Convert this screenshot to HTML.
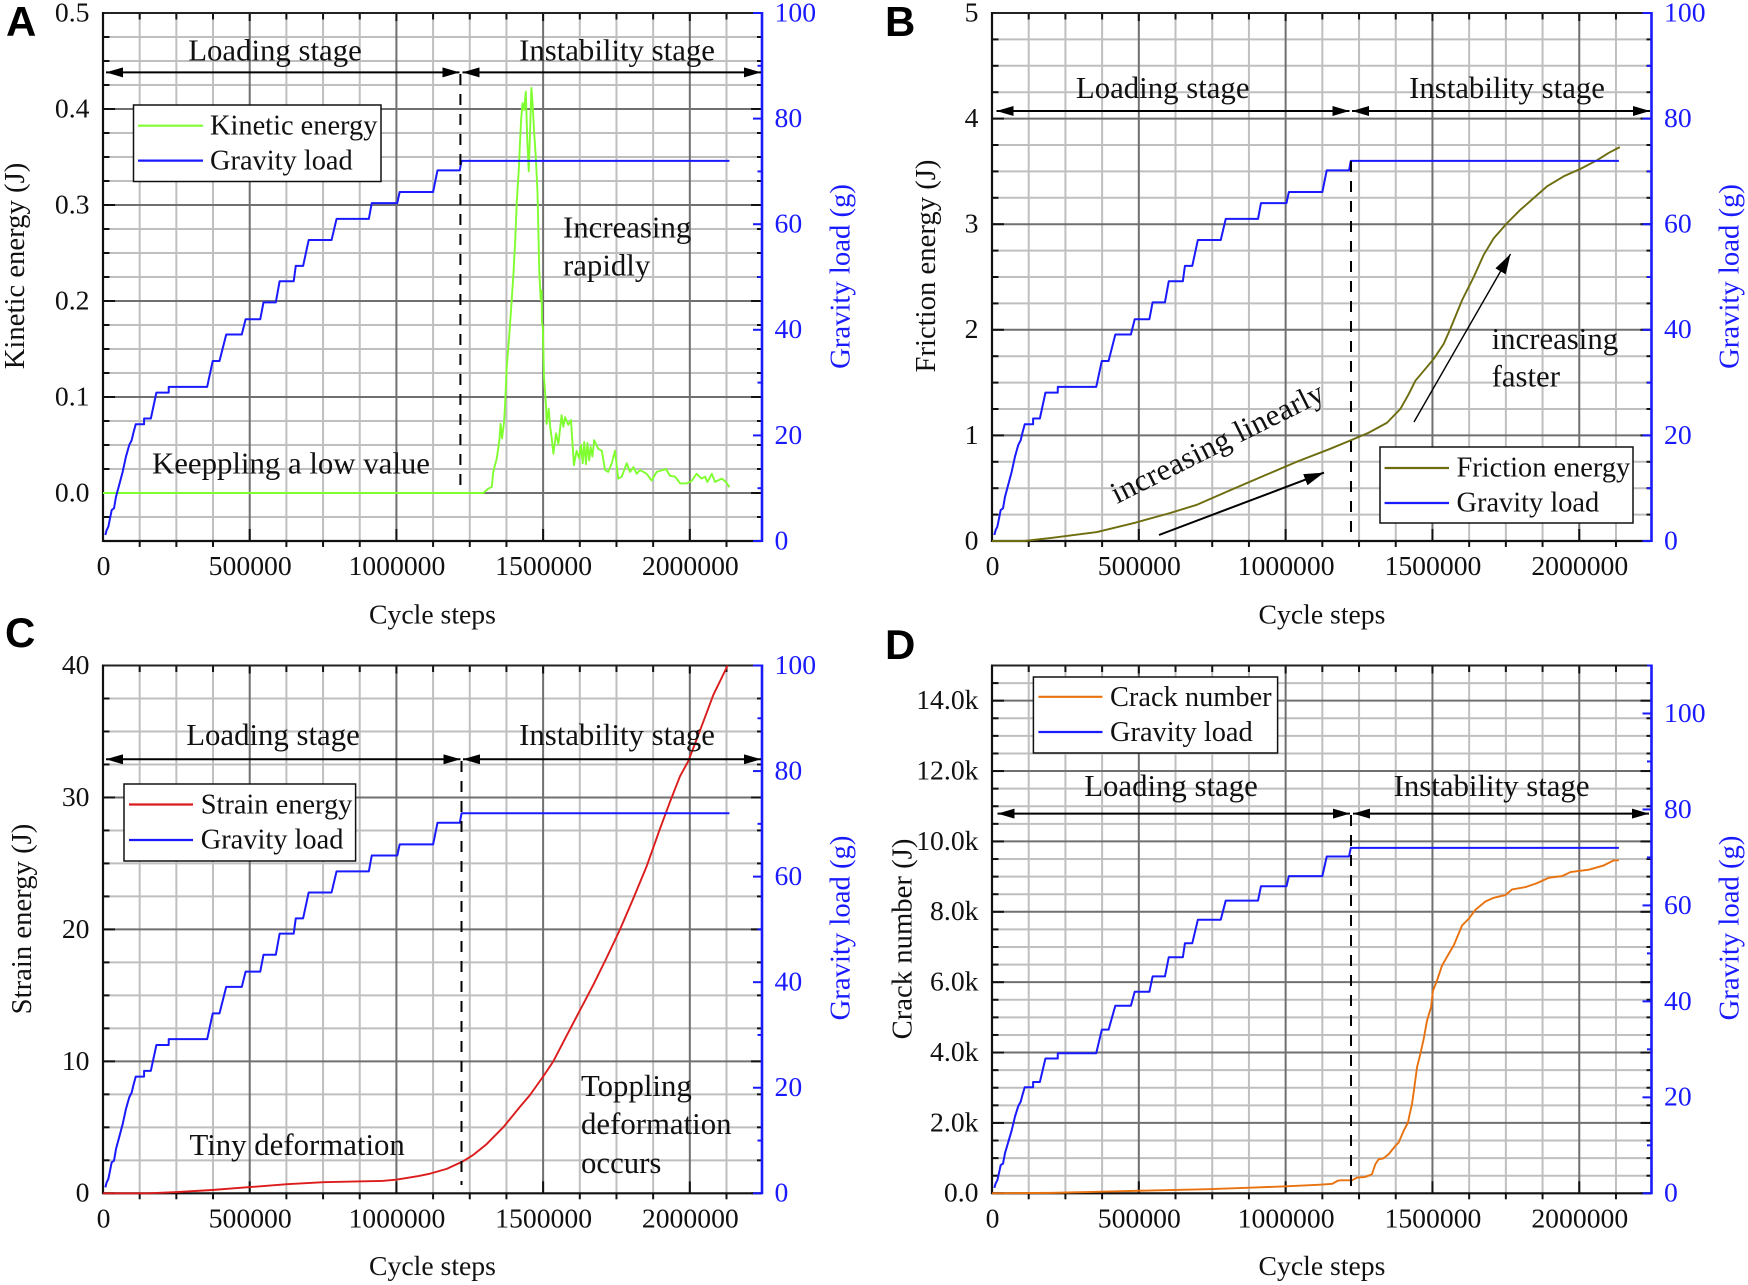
<!DOCTYPE html>
<html lang="en">
<head>
<meta charset="utf-8">
<title>Energy and crack evolution under gravity loading</title>
<style>
html,body{margin:0;padding:0;background:#fff;}
svg{display:block;}
text{font-family:"Liberation Serif",serif;fill:#111;}
.tick{font-size:27.7px;}
.title{font-size:27.7px;}
.rtitle{font-size:28.7px;}
.note{font-size:30.8px;}
.leg{font-size:28.4px;}
.blue{fill:#1a1aff;}
.letter{font-family:"Liberation Sans",sans-serif;font-weight:bold;font-size:42px;fill:#000;}
.stage{stroke:#000;stroke-width:2;fill:none;marker-start:url(#head);marker-end:url(#head);}
.dash{stroke:#000;stroke-width:2;stroke-dasharray:11 9;fill:none;}
.box{fill:#fff;stroke:#111;stroke-width:1.5;}
</style>
</head>
<body>
<svg xmlns="http://www.w3.org/2000/svg" width="1748" height="1285" viewBox="0 0 1748 1285">
<defs>
<marker id="head" viewBox="0 0 17 10" refX="17" refY="5" markerWidth="17" markerHeight="10" markerUnits="userSpaceOnUse" orient="auto-start-reverse"><path d="M0,0L17,5L0,10Z" fill="#000"/></marker>
<marker id="thin" viewBox="0 0 20 12" refX="20" refY="6" markerWidth="20" markerHeight="12" markerUnits="userSpaceOnUse" orient="auto"><path d="M0,0L20,6L0,12Z" fill="#000"/></marker>
</defs>
<rect width="1748" height="1285" fill="#fff"/>

<!-- Panel A -->
<g id="panel-a"></g>
<g>
<text class="letter" x="6" y="36">A</text>
<text class="rtitle" transform="translate(24,266) rotate(-90)" text-anchor="middle">Kinetic energy (J)</text>
<text class="rtitle blue" transform="translate(849.5,276.5) rotate(-90)" text-anchor="middle">Gravity load (g)</text>
<text class="title" x="432.5" y="623.5" text-anchor="middle">Cycle steps</text>
<line class="stage" x1="106" y1="72.4" x2="459.5" y2="72.4"/>
<line class="stage" x1="462.5" y1="72.4" x2="761" y2="72.4"/>
<line class="dash" x1="460.4" y1="74" x2="460.4" y2="492"/>
<text class="note" x="275" y="60.5" text-anchor="middle">Loading stage</text>
<text class="note" x="617" y="60.5" text-anchor="middle">Instability stage</text>
<text class="note" x="152" y="473.5">Keeppling a low value</text>
<text class="note" x="563" y="237.5">Increasing</text>
<text class="note" x="563" y="275.5">rapidly</text>
<g>
<rect class="box" x="133.5" y="105" width="247.5" height="76.5"/>
<line x1="138" y1="125.7" x2="203" y2="125.7" stroke="#80ff30" stroke-width="2.2"/>
<line x1="138" y1="160.6" x2="203" y2="160.6" stroke="#1a1aff" stroke-width="2.2"/>
<text class="leg" x="210" y="134.7">Kinetic energy</text>
<text class="leg" x="210" y="169.4">Gravity load</text>
</g>
</g>

<!-- Panel B -->
<g id="panel-b"></g>
<g>
<text class="letter" x="885" y="36">B</text>
<text class="rtitle" transform="translate(935,266) rotate(-90)" text-anchor="middle">Friction energy (J)</text>
<text class="rtitle blue" transform="translate(1738.5,276.5) rotate(-90)" text-anchor="middle">Gravity load (g)</text>
<text class="title" x="1322" y="623.5" text-anchor="middle">Cycle steps</text>
<line class="stage" x1="996.5" y1="111" x2="1349.5" y2="111"/>
<line class="stage" x1="1352" y1="111" x2="1650" y2="111"/>
<line class="dash" x1="1351" y1="161" x2="1351" y2="541"/>
<text class="note" x="1162.7" y="98" text-anchor="middle">Loading stage</text>
<text class="note" x="1507" y="98" text-anchor="middle">Instability stage</text>
<text class="note" transform="translate(1117,504) rotate(-26.5)" textLength="234">increasing linearly</text>
<text class="note" x="1491.6" y="349">increasing</text>
<text class="note" x="1491.6" y="386.5">faster</text>
<line x1="1159" y1="535" x2="1324" y2="472.6" stroke="#000" stroke-width="2" marker-end="url(#thin)"/>
<line x1="1414" y1="422" x2="1510.5" y2="254" stroke="#000" stroke-width="1.4" marker-end="url(#thin)"/>
<g>
<rect class="box" x="1380" y="447" width="253" height="76"/>
<line x1="1384.6" y1="468" x2="1449" y2="468" stroke="#6d6d10" stroke-width="2.2"/>
<line x1="1384.6" y1="503" x2="1449" y2="503" stroke="#1a1aff" stroke-width="2.2"/>
<text class="leg" x="1456.5" y="476.7">Friction energy</text>
<text class="leg" x="1456.5" y="511.4">Gravity load</text>
</g>
</g>

<!-- Panel C -->
<g id="panel-c"></g>
<g>
<text class="letter" x="5" y="647">C</text>
<text class="rtitle" transform="translate(31,919) rotate(-90)" text-anchor="middle">Strain energy (J)</text>
<text class="rtitle blue" transform="translate(849.5,928) rotate(-90)" text-anchor="middle">Gravity load (g)</text>
<text class="title" x="432.5" y="1275" text-anchor="middle">Cycle steps</text>
<line class="stage" x1="106" y1="759.3" x2="460.5" y2="759.3"/>
<line class="stage" x1="463" y1="759.3" x2="761" y2="759.3"/>
<line class="dash" x1="461.5" y1="761" x2="461.5" y2="1185"/>
<text class="note" x="273" y="745" text-anchor="middle">Loading stage</text>
<text class="note" x="617" y="745" text-anchor="middle">Instability stage</text>
<text class="note" x="189.5" y="1155">Tiny deformation</text>
<text class="note" x="581" y="1096">Toppling</text>
<text class="note" x="581" y="1134">deformation</text>
<text class="note" x="581" y="1173">occurs</text>
<g>
<rect class="box" x="124" y="784" width="231.6" height="77"/>
<line x1="129" y1="804.5" x2="193" y2="804.5" stroke="#dc1c1c" stroke-width="2.2"/>
<line x1="129" y1="840" x2="193" y2="840" stroke="#1a1aff" stroke-width="2.2"/>
<text class="leg" x="200.7" y="813.6">Strain energy</text>
<text class="leg" x="200.7" y="848.5">Gravity load</text>
</g>
</g>

<!-- Panel D -->
<g id="panel-d"></g>
<g>
<text class="letter" x="885" y="659">D</text>
<text class="rtitle" transform="translate(911.5,939) rotate(-90)" text-anchor="middle">Crack number (J)</text>
<text class="rtitle blue" transform="translate(1738.5,928) rotate(-90)" text-anchor="middle">Gravity load (g)</text>
<text class="title" x="1322" y="1275" text-anchor="middle">Cycle steps</text>
<line class="stage" x1="997.5" y1="813.6" x2="1350" y2="813.6"/>
<line class="stage" x1="1353" y1="813.6" x2="1649" y2="813.6"/>
<line class="dash" x1="1351" y1="815" x2="1351" y2="1193"/>
<text class="note" x="1171" y="796" text-anchor="middle">Loading stage</text>
<text class="note" x="1491.6" y="796" text-anchor="middle">Instability stage</text>
<g>
<rect class="box" x="1033.4" y="677" width="244.2" height="76"/>
<line x1="1038.4" y1="696.8" x2="1102.5" y2="696.8" stroke="#e8720f" stroke-width="2.2"/>
<line x1="1038.4" y1="732" x2="1102.5" y2="732" stroke="#1a1aff" stroke-width="2.2"/>
<text class="leg" x="1110" y="705.8">Crack number</text>
<text class="leg" x="1110" y="740.8">Gravity load</text>
</g>
</g>

<script>
const cycleTicks = [0, 500000, 1000000, 1500000, 2000000];
const cycleTickLabels = ['0', '500000', '1000000', '1500000', '2000000'];

const gravityCycles = [8000, 12500, 18200, 24000, 29600, 37500, 44300, 57900, 67000, 78200, 89600, 97800, 103300, 111500, 140000, 140000, 163000, 182000, 224000, 224000, 355000, 374000, 397000, 420000, 473000, 486000, 536000, 547000, 589000, 602000, 650000, 657000, 682000, 701000, 779000, 796000, 906000, 916000, 1003000, 1011000, 1125000, 1140000, 1216000, 1222000, 2135000];
const gravityValues = [1.13, 2.08, 2.71, 4.29, 5.87, 6.18, 8.39, 11.2, 13.1, 15.97, 18.2, 19.1, 20.4, 22.1, 22.1, 23.2, 23.2, 28.1, 28.1, 29.2, 29.2, 34.1, 34.1, 39.1, 39.1, 42, 42, 45.2, 45.2, 49.2, 49.2, 52.1, 52.1, 57, 57, 61, 61, 64, 64, 66.1, 66.1, 70.2, 70.2, 72, 72];

const kineticCycles = [0, 1296000, 1313000, 1325000, 1330000, 1342000, 1351000, 1355000, 1360000, 1367000, 1370000, 1376000, 1385000, 1393000, 1399000, 1405000, 1410000, 1417000, 1421000, 1425000, 1430000, 1435000, 1441000, 1446000, 1451000, 1455000, 1460000, 1464000, 1469000, 1475000, 1481000, 1487000, 1492000, 1495000, 1496000, 1499000, 1503000, 1510000, 1512000, 1519000, 1524000, 1529000, 1535000, 1544000, 1552000, 1563000, 1569000, 1575000, 1586000, 1595000, 1605000, 1614000, 1623000, 1629000, 1635000, 1640000, 1646000, 1651000, 1657000, 1662000, 1668000, 1674000, 1688000, 1700000, 1711000, 1722000, 1734000, 1745000, 1756000, 1768000, 1785000, 1796000, 1808000, 1819000, 1830000, 1853000, 1870000, 1887000, 1919000, 1932000, 1950000, 1967000, 1989000, 2006000, 2023000, 2040000, 2052000, 2060000, 2075000, 2086000, 2109000, 2123000, 2135000];
const kineticValues = [0, 0, 0.0045, 0.0063, 0.022, 0.036, 0.055, 0.072, 0.057, 0.074, 0.09, 0.131, 0.166, 0.201, 0.229, 0.263, 0.302, 0.336, 0.364, 0.389, 0.406, 0.399, 0.418, 0.368, 0.335, 0.371, 0.422, 0.406, 0.378, 0.35, 0.312, 0.229, 0.201, 0.211, 0.177, 0.173, 0.121, 0.09, 0.072, 0.088, 0.069, 0.058, 0.041, 0.062, 0.051, 0.081, 0.069, 0.079, 0.071, 0.076, 0.029, 0.044, 0.036, 0.05, 0.031, 0.053, 0.03, 0.052, 0.034, 0.048, 0.038, 0.055, 0.046, 0.044, 0.024, 0.022, 0.031, 0.044, 0.015, 0.017, 0.031, 0.022, 0.027, 0.02, 0.024, 0.02, 0.013, 0.022, 0.025, 0.018, 0.017, 0.01, 0.01, 0.0125, 0.02, 0.015, 0.017, 0.0115, 0.02, 0.0115, 0.015, 0.0115, 0.006];
const kineticTicks = [0, 0.1, 0.2, 0.3, 0.4, 0.5];
const kineticTickLabels = ['0.0', '0.1', '0.2', '0.3', '0.4', '0.5'];

const frictionCycles = [0, 110000, 205000, 357000, 490000, 604000, 699000, 813000, 927000, 1041000, 1146400, 1220200, 1282700, 1345200, 1390600, 1419000, 1441700, 1504200, 1538300, 1561000, 1600800, 1640500, 1674600, 1708700, 1754100, 1799600, 1845000, 1890400, 1947200, 2004000, 2060800, 2100600, 2138000];
const frictionValues = [0, 0, 0.03, 0.085, 0.175, 0.263, 0.344, 0.483, 0.619, 0.754, 0.867, 0.952, 1.025, 1.12, 1.25, 1.39, 1.517, 1.724, 1.867, 2.01, 2.28, 2.5, 2.71, 2.867, 3.01, 3.137, 3.248, 3.359, 3.454, 3.524, 3.606, 3.676, 3.73];
const frictionTicks = [0, 1, 2, 3, 4, 5];
const frictionTickLabels = ['0', '1', '2', '3', '4', '5'];

const strainCycles = [0, 154000, 251000, 372000, 500000, 627000, 752000, 866000, 952000, 999000, 1075000, 1114500, 1171300, 1222400, 1262000, 1307600, 1364400, 1421200, 1455300, 1500700, 1534800, 1580300, 1625700, 1671100, 1716600, 1762000, 1807500, 1852900, 1898300, 1932400, 1966500, 1994900, 2034700, 2080100, 2128900];
const strainValues = [0, 0, 0.09, 0.25, 0.47, 0.69, 0.84, 0.9, 0.94, 1.03, 1.31, 1.49, 1.85, 2.37, 2.91, 3.73, 5.01, 6.56, 7.45, 8.87, 10, 11.95, 13.88, 15.8, 17.86, 19.99, 22.35, 24.79, 27.62, 29.67, 31.6, 32.76, 35.07, 37.77, 40];
const strainTicks = [0, 10, 20, 30, 40];
const strainTickLabels = ['0', '10', '20', '30', '40'];

const crackCycles = [0, 205000, 376000, 547000, 737000, 889000, 1003000, 1117000, 1159000, 1178000, 1186100, 1225900, 1242900, 1271300, 1294000, 1305400, 1316700, 1331500, 1350800, 1373500, 1384900, 1401900, 1416700, 1422400, 1430300, 1438300, 1447400, 1458700, 1470100, 1481500, 1495100, 1501900, 1515500, 1532600, 1555300, 1572300, 1600700, 1623500, 1646200, 1680300, 1708700, 1748400, 1771100, 1816600, 1856400, 1896100, 1941500, 1970000, 2032400, 2083500, 2117600, 2134700];
const crackValues = [0, 12, 47, 82, 117, 164, 199, 246, 269, 360, 370, 370, 446, 465, 541, 826, 968, 987, 1110, 1348, 1442, 1775, 2012, 2249, 2534, 3008, 3578, 3957, 4384, 4906, 5286, 5760, 6045, 6472, 6804, 7042, 7611, 7801, 8057, 8294, 8399, 8475, 8636, 8702, 8816, 8968, 9015, 9129, 9196, 9319, 9462, 9462];
const crackTicks = [0, 2000, 4000, 6000, 8000, 10000, 12000, 14000];
const crackTickLabels = ['0.0', '2.0k', '4.0k', '6.0k', '8.0k', '10.0k', '12.0k', '14.0k'];

const gravityTicks = [0, 20, 40, 60, 80, 100];
const gravityTickLabels = ['0', '20', '40', '60', '80', '100'];

const NS = 'http://www.w3.org/2000/svg';
const X_MAX = 2246000;
const X_MINOR = 125000;
const GRAVITY_MINOR = 10;

const panels = [
  {id:'a', name:'kinetic', left:103, right:762, top:13, bottom:541, yMin:-0.05, yMax:0.5, yMinor:0.025, gMax:100, ticks:kineticTicks, labels:kineticTickLabels, xs:kineticCycles, ys:kineticValues, color:'#80ff30', width:1.9},
  {id:'b', name:'friction', left:992, right:1651.5, top:13, bottom:541, yMin:0, yMax:5, yMinor:0.25, gMax:100, ticks:frictionTicks, labels:frictionTickLabels, xs:frictionCycles, ys:frictionValues, color:'#6d6d10', width:1.9},
  {id:'c', name:'strain', left:103, right:762, top:665.5, bottom:1193.3, yMin:0, yMax:40, yMinor:2.5, gMax:100, ticks:strainTicks, labels:strainTickLabels, xs:strainCycles, ys:strainValues, color:'#dc1c1c', width:1.9},
  {id:'d', name:'crack', left:992, right:1651.5, top:665.5, bottom:1193.3, yMin:0, yMax:15000, yMinor:500, gMax:110, ticks:crackTicks, labels:crackTickLabels, xs:crackCycles, ys:crackValues, color:'#e8720f', width:1.9}
];

function makeLine(parent, x1, y1, x2, y2, color, width, label) {
  const el = document.createElementNS(NS, 'line');
  el.setAttribute('x1', x1);
  el.setAttribute('y1', y1);
  el.setAttribute('x2', x2);
  el.setAttribute('y2', y2);
  el.setAttribute('stroke', color);
  el.setAttribute('stroke-width', width);
  
  
  parent.appendChild(el);
  return el;
}

function makeText(parent, x, y, content, anchor, cls, label) {
  const el = document.createElementNS(NS, 'text');
  el.setAttribute('x', x);
  el.setAttribute('y', y);
  el.setAttribute('text-anchor', anchor);
  el.setAttribute('class', cls);
  el.textContent = content;
  
  
  parent.appendChild(el);
  return el;
}

function makeSeries(parent, xs, ys, xScale, yScale, color, width, label) {
  const el = document.createElementNS(NS, 'polyline');
  const pts = xs.map(function (v, i) { return xScale(v).toFixed(2) + ',' + yScale(ys[i]).toFixed(2); });
  el.setAttribute('points', pts.join(' '));
  el.setAttribute('fill', 'none');
  el.setAttribute('stroke', color);
  el.setAttribute('stroke-width', width);
  el.setAttribute('stroke-linejoin', 'round');
  
  
  parent.appendChild(el);
  return el;
}

function drawPanel(p) {
  const g = document.getElementById('panel-' + p.id);
  const xScale = function (v) { return p.left + (v / X_MAX) * (p.right - p.left); };
  const yScale = function (v) { return p.bottom - ((v - p.yMin) / (p.yMax - p.yMin)) * (p.bottom - p.top); };
  const gScale = function (v) { return p.bottom - (v / p.gMax) * (p.bottom - p.top); };
  const isMajor = function (v, list) { return list.some(function (t) { return Math.abs(t - v) < 1e-6; }); };

  const nx = Math.floor(X_MAX / X_MINOR);
  for (let i = 1; i <= nx; i++) {
    const v = i * X_MINOR;
    if (!isMajor(v, cycleTicks)) {
      makeLine(g, xScale(v), p.top, xScale(v), p.bottom, '#bfbfbf', 2, 'x-minor-gridline');
      makeLine(g, xScale(v), p.bottom, xScale(v), p.bottom + 6, '#111', 2, 'x-minor-tick');
      makeLine(g, xScale(v), p.top, xScale(v), p.top + 6.5, '#111', 2, 'x-minor-tick-top');
    }
  }
  const ny = Math.round((p.yMax - p.yMin) / p.yMinor);
  for (let i = 1; i < ny; i++) {
    const v = p.yMin + i * p.yMinor;
    if (!isMajor(v, p.ticks)) {
      makeLine(g, p.left, yScale(v), p.right, yScale(v), '#bfbfbf', 2, 'y-minor-gridline');
      makeLine(g, p.left, yScale(v), p.left + 6.5, yScale(v), '#111', 2, 'y-minor-tick');
      makeLine(g, p.right - 5, yScale(v), p.right, yScale(v), '#111', 2, 'y-minor-tick-right');
    }
  }
  p.ticks.forEach(function (v, i) {
    if (v > p.yMin && v < p.yMax) {
      makeLine(g, p.left, yScale(v), p.right, yScale(v), '#707070', 2, 'y-major-gridline');
    }
    makeLine(g, p.left, yScale(v), p.left + 12, yScale(v), '#111', 2, 'y-major-tick');
    makeLine(g, p.right - 11, yScale(v), p.right, yScale(v), '#111', 2, 'y-major-tick-right');
    makeText(g, p.left - 13.5, yScale(v) + 8.4, p.labels[i], 'end', 'tick', 'y-tick-label');
  });
  cycleTicks.forEach(function (v, i) {
    if (v > 0) {
      makeLine(g, xScale(v), p.top, xScale(v), p.bottom, '#707070', 2, 'x-major-gridline');
      makeLine(g, xScale(v), p.bottom - 12, xScale(v), p.bottom, '#111', 2, 'x-major-tick');
      makeLine(g, xScale(v), p.top, xScale(v), p.top + 8, '#111', 2, 'x-major-tick-top');
    }
    makeText(g, xScale(v) + 0.5, p.bottom + 34, cycleTickLabels[i], 'middle', 'tick', 'x-tick-label');
  });

  makeLine(g, p.left, p.top, p.right, p.top, '#222', 2, 'top-axis');
  makeLine(g, p.left, p.bottom, p.right, p.bottom, '#111', 2.2, 'x-axis');
  makeLine(g, p.left, p.top - 1, p.left, p.bottom + 1, '#111', 2.2, 'y-axis');

  for (let v = 0; v <= p.gMax + 1e-6; v += GRAVITY_MINOR) {
    const major = isMajor(v, gravityTicks);
    makeLine(g, p.right - (major ? 9 : 4.5), gScale(v), p.right, gScale(v), '#1a1aff', 2, 'gravity-tick');
  }
  gravityTicks.forEach(function (v, i) {
    makeText(g, p.right + 12.5, gScale(v) + 8.4, gravityTickLabels[i], 'start', 'tick blue', 'gravity-tick-label');
  });
  makeLine(g, p.right, p.top - 1, p.right, p.bottom + 1, '#1a1aff', 2.6, 'gravity-axis');

  makeSeries(g, p.xs, p.ys, xScale, yScale, p.color, p.width, p.name + '-line');
  makeSeries(g, gravityCycles, gravityValues, xScale, gScale, '#1a1aff', 2, 'gravity-load-line');
}

panels.forEach(drawPanel);
</script>
</svg>
</body>
</html>
